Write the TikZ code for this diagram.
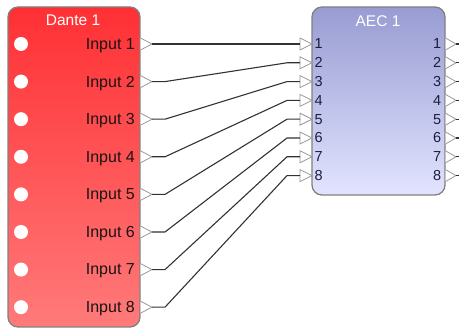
\documentclass[tikz,border=0pt]{standalone}
\usepackage{fontspec}
\setmainfont{Liberation Sans}
\definecolor{dtop}{RGB}{255,48,52}
\definecolor{dbot}{RGB}{255,122,122}
\definecolor{atop}{RGB}{152,156,210}
\definecolor{abot}{RGB}{226,228,255}
\definecolor{frame}{RGB}{128,128,128}
\definecolor{wire}{RGB}{50,50,50}
\definecolor{pinnum}{RGB}{30,28,60}
\definecolor{lbl}{RGB}{25,20,20}
\tikzset{
  blockbox/.style={draw=frame, line width=1.3pt, rounded corners=10pt},
  pintri/.style={draw=frame!80, fill=white, line width=0.8pt},
  wireline/.style={draw=wire, line width=1.1pt},
  titletext/.style={text=white, font=\fontsize{15.5}{15.5}\selectfont, inner sep=0pt},
  inlabel/.style={text=lbl, font=\fontsize{16}{16}\selectfont, anchor=east, inner sep=0pt},
  numlabel/.style={text=pinnum, font=\fontsize{14.5}{14.5}\selectfont, inner sep=0pt},
  jack/.style={circle, fill=white, minimum size=14pt, inner sep=0pt}
}
\begin{document}
\begin{tikzpicture}[x=1pt,y=-1pt]
\useasboundingbox (0,0) rectangle (459,328);
% Dante block
\path[blockbox, top color=dtop, bottom color=dbot] (8,7) rectangle (140,327);
\node[titletext] (dtitle) at (73,20) {Dante 1};
% AEC block
\path[blockbox, top color=atop, bottom color=abot] (312,7) rectangle (445,195);
\node[titletext] (atitle) at (378,21) {AEC 1};
\foreach \i in {1,...,8}{
  \pgfmathsetmacro{\yd}{44+(\i-1)*37.6}
  \pgfmathsetmacro{\ya}{44+(\i-1)*18.8}
  % Dante pins
  \node[jack] (jack\i) at (21,\yd) {};
  \node[inlabel] (dl\i) at (135,\yd+1.5) {Input \i};
  \draw[pintri] (140.5,\yd-6) -- (152,\yd) -- (140.5,\yd+6);
  \coordinate (dout\i) at (152,\yd);
  % AEC input pins
  \draw[pintri] (300,\ya-6) -- (312,\ya) -- (300,\ya+6) -- cycle;
  \coordinate (ain\i) at (300,\ya);
  \node[numlabel, anchor=west] (an\i) at (314.5,\ya) {\i};
  % AEC output pins
  \node[numlabel, anchor=east] (aon\i) at (441.5,\ya) {\i};
  \draw[pintri] (445.5,\ya-6) -- (456,\ya) -- (445.5,\ya+6);
  \coordinate (aout\i) at (456,\ya);
  \coordinate (stub\i) at (460,\ya);
  \draw[wireline] (aout\i) -- (stub\i);
}
% connectors
\draw[wireline] (dout1) -- (ain1);
\foreach \i in {2,...,8}{
  \draw[wireline] (dout\i) -- ++(13,0) -- ([xshift=-13pt]ain\i) -- (ain\i);
}
\end{tikzpicture}
\end{document}
